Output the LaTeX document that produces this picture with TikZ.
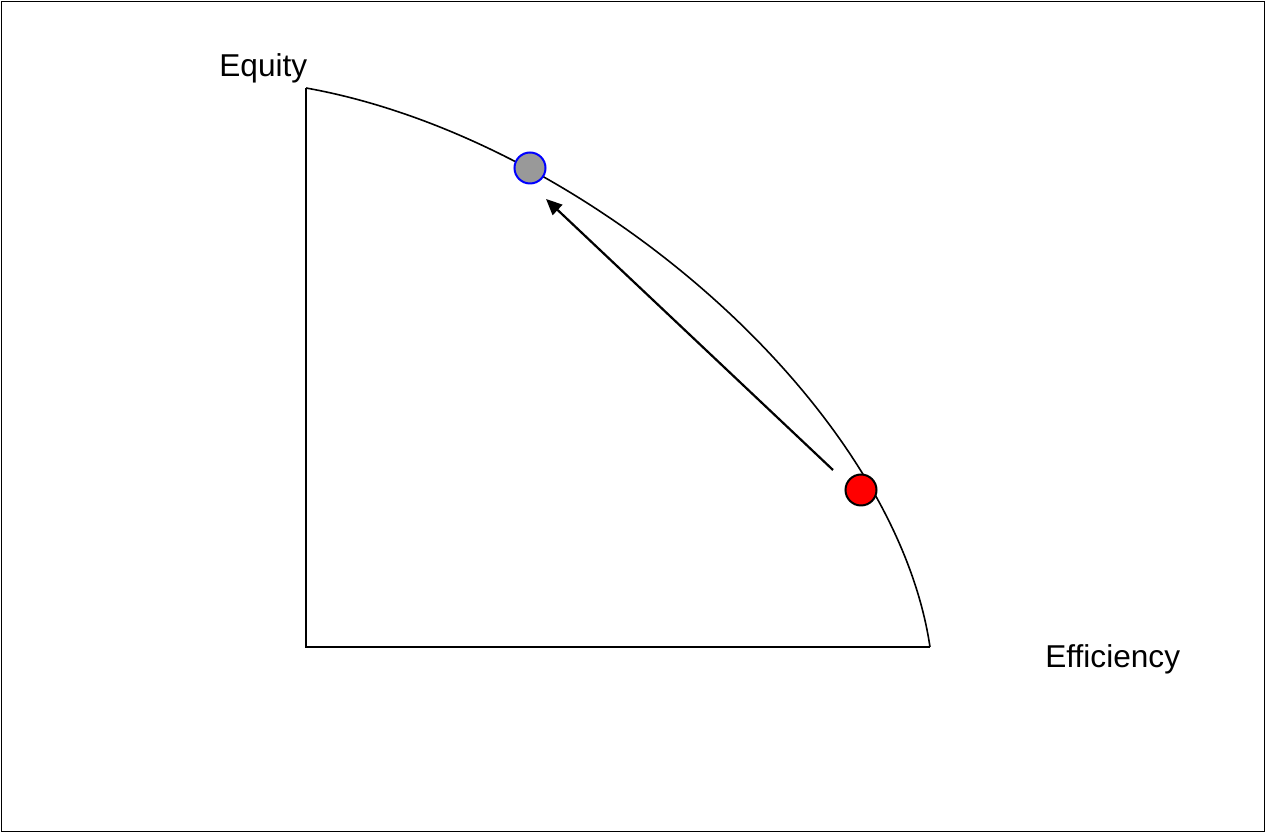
\documentclass[tikz,border=0pt]{standalone}
\usepackage{fontspec}
\setmainfont{Liberation Sans}
\usetikzlibrary{arrows.meta}
\begin{document}
\begin{tikzpicture}[x=0.5pt,y=-0.5pt,
  lbl/.style={anchor=base west,inner sep=0pt,font=\fontsize{15.8}{19}\selectfont},
  dot/.style={circle,draw,line width=1pt,minimum size=15.5pt,inner sep=0pt},
  axis/.style={line width=1pt},
  frontier/.style={line width=0.8pt},
  move/.style={line width=1.1pt,-{Triangle[length=8pt,width=7pt]}}]
\useasboundingbox (0,0) rectangle (1266,833);
\draw[line width=0.8pt] (1.5,1.5) rectangle (1264.5,831.5);
\coordinate (top) at (306,88);
\coordinate (origin) at (306,647);
\coordinate (right) at (930,647);
\draw[axis] (top) -- (origin) -- (right);
\draw[frontier] (top) .. controls (586,138) and (894,404) .. (right);
\node[dot,draw=blue,fill=black!40] (blue) at (530,168) {};
\node[dot,fill=red] (red) at (861,490) {};
\coordinate (from) at (833,470);
\coordinate (to) at (546,199);
\draw[move] (from) -- (to);
\node[lbl] (equity) at (219,77) {Equity};
\node[lbl] (efficiency) at (1045,668) {Efficiency};
\end{tikzpicture}
\end{document}
